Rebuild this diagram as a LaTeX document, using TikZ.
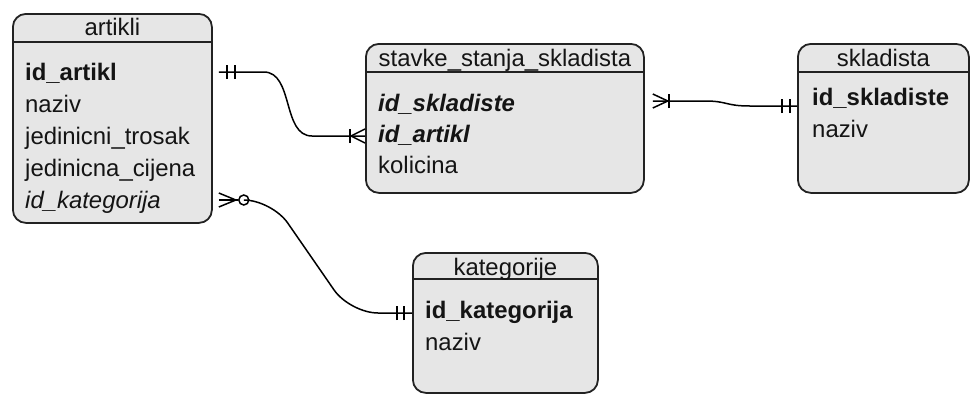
\documentclass[tikz,border=0pt]{standalone}
\usepackage{fontspec}
\setmainfont{Liberation Sans}
\definecolor{boxfill}{HTML}{E6E6E6}
\definecolor{boxline}{HTML}{222222}
\definecolor{txt}{HTML}{141414}
\begin{document}
\begin{tikzpicture}[x=1pt,y=-1pt,
  tbl/.style={draw=boxline, fill=boxfill, line width=1.8pt, rounded corners=13pt, rectangle, anchor=north west, inner sep=0pt},
  hdr/.style={draw=boxline, line width=1.4pt},
  ttl/.style={anchor=base, inner sep=0pt, text=txt, font=\fontsize{23.9}{28}\selectfont},
  row/.style={anchor=base west, inner sep=0pt, text=txt, font=\fontsize{23.9}{28}\selectfont},
  conn/.style={draw=black, line width=1.5pt},
  tick/.style={draw=black, line width=1.5pt}
]
\useasboundingbox (0,0) rectangle (971,394);

% artikli
\node[tbl, minimum width=199pt, minimum height=209pt] (artikli) at (12,13) {};
\draw[hdr] (artikli.west |- 0,42) -- (artikli.east |- 0,42);
\node[ttl] (artikliT) at (artikli.center |- 0,35) {artikli};
\node[row] (a1) at (25,80) {\textbf{id\_artikl}};
\node[row] (a2) at (25,112) {naziv};
\node[row] (a3) at (25,144) {jedinicni\_trosak};
\node[row] (a4) at (25,176) {jedinicna\_cijena};
\node[row] (a5) at (25,208) {\textit{id\_kategorija}};

% stavke_stanja_skladista
\node[tbl, minimum width=278pt, minimum height=149pt] (stavke) at (365,43) {};
\draw[hdr] (stavke.west |- 0,72) -- (stavke.east |- 0,72);
\node[ttl] (stavkeT) at (stavke.center |- 0,66) {stavke\_stanja\_skladista};
\node[row] (s1) at (378,111) {\textbf{\textit{id\_skladiste}}};
\node[row] (s2) at (378,142) {\textbf{\textit{id\_artikl}}};
\node[row] (s3) at (378,173) {kolicina};

% skladista
\node[tbl, minimum width=171pt, minimum height=149pt] (skladista) at (797,43) {};
\draw[hdr] (skladista.west |- 0,72) -- (skladista.east |- 0,72);
\node[ttl] (skladistaT) at (skladista.center |- 0,66) {skladista};
\node[row] (k1) at (812,105) {\textbf{id\_skladiste}};
\node[row] (k2) at (812,137) {naziv};

% kategorije
\node[tbl, minimum width=185pt, minimum height=140pt] (kategorije) at (412,252) {};
\draw[hdr] (kategorije.west |- 0,279) -- (kategorije.east |- 0,279);
\node[ttl] (kategorijeT) at (kategorije.center |- 0,275) {kategorije};
\node[row] (c1) at (425,318) {\textbf{id\_kategorija}};
\node[row] (c2) at (425,350) {naziv};

% connector artikli -- stavke
\coordinate (p1) at ([xshift=6pt]artikli.east |- 0,72);
\coordinate (q1) at (stavke.west |- 0,136);
\draw[conn] (p1) -- ([xshift=45pt]p1) .. controls ([xshift=75pt]p1) and ([xshift=-83pt]q1) .. ([xshift=-53pt]q1) -- (q1);
\draw[tick] ([xshift=8pt,yshift=-7pt]p1) -- ([xshift=8pt,yshift=7pt]p1);
\draw[tick] ([xshift=16pt,yshift=-7pt]p1) -- ([xshift=16pt,yshift=7pt]p1);
\draw[tick] ([xshift=-15pt,yshift=-7pt]q1) -- ([xshift=-15pt,yshift=7pt]q1);
\draw[tick] ([xshift=-14pt]q1) -- ([yshift=-7pt]q1);
\draw[tick] ([xshift=-14pt]q1) -- ([yshift=7pt]q1);

% connector stavke -- skladista
\coordinate (p2) at ([xshift=8pt]stavke.east |- 0,101);
\coordinate (q2) at (skladista.west |- 0,106);
\draw[conn] (p2) -- ([xshift=52pt]p2) .. controls ([xshift=75pt]p2) and ([xshift=-72pt]q2) .. ([xshift=-47pt]q2) -- (q2);
\draw[tick] ([xshift=16pt,yshift=-7pt]p2) -- ([xshift=16pt,yshift=7pt]p2);
\draw[tick] ([xshift=15pt]p2) -- ([xshift=0pt,yshift=-7pt]p2);
\draw[tick] ([xshift=15pt]p2) -- ([xshift=0pt,yshift=7pt]p2);
\draw[tick] ([xshift=-15pt,yshift=-7pt]q2) -- ([xshift=-15pt,yshift=7pt]q2);
\draw[tick] ([xshift=-7pt,yshift=-7pt]q2) -- ([xshift=-7pt,yshift=7pt]q2);

% connector artikli -- kategorije
\coordinate (p3) at ([xshift=6pt]artikli.east |- 0,200);
\coordinate (q3) at (kategorije.west |- 0,313);
\node[circle, draw=black, line width=1.5pt, fill=white, minimum size=10pt, inner sep=0pt] (o3) at ([xshift=25pt]p3) {};
\draw[conn, rounded corners=28pt] (o3.east) -- ([xshift=53pt]p3) -- ([xshift=-62pt]q3) -- (q3);
\draw[tick] ([xshift=17pt]p3) -- ([xshift=0pt,yshift=-7pt]p3);
\draw[tick] ([xshift=17pt]p3) -- ([xshift=0pt,yshift=7pt]p3);
\draw[tick] ([xshift=0pt]p3) -- (o3.west);
\draw[tick] ([xshift=-15pt,yshift=-7pt]q3) -- ([xshift=-15pt,yshift=7pt]q3);
\draw[tick] ([xshift=-8pt,yshift=-7pt]q3) -- ([xshift=-8pt,yshift=7pt]q3);
\end{tikzpicture}
\end{document}
